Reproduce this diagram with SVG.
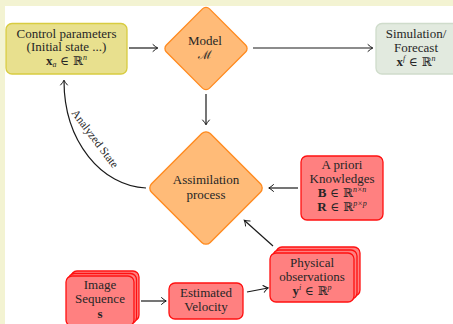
<svg xmlns="http://www.w3.org/2000/svg" width="453" height="324" viewBox="0 0 453 324">
<defs>
<marker id="arr" markerUnits="userSpaceOnUse" markerWidth="12" markerHeight="12" viewBox="-6 -6 12 12" refX="0" refY="0" orient="auto">
<path d="M-4.5,-3.4 Q-1.6,-0.8 0.3,0 Q-1.6,0.8 -4.5,3.4" fill="none" stroke="#1a1a1a" stroke-width="1" stroke-linecap="round"/>
</marker>
<style>
text{font-family:"Liberation Serif","DejaVu Serif",serif;font-size:13px;fill:#262626;text-anchor:middle}
.m{font-family:"DejaVu Serif","Liberation Serif",serif;font-size:12px}
.b{font-weight:bold}
.sup{font-size:8px}
.ctrl{fill:#e8e08e;stroke:#d8cc40;stroke-width:1.3}
.dia{fill:#ffbb78;stroke:#ff8a1e;stroke-width:1.3}
.sim{fill:#e2eadf;stroke:#cfdccb;stroke-width:1.3}
.red{fill:#ff8080;stroke:#ff1010;stroke-width:1.3}
.con{fill:none;stroke:#1a1a1a;stroke-width:1.2;marker-end:url(#arr)}
.lbl{font-size:11.5px}
</style>
</defs>
<rect x="0" y="0" width="453" height="324" fill="#ffffff"/>
<rect x="0" y="0" width="453" height="6" fill="#f3f3d2"/>
<rect x="0" y="0" width="5" height="324" fill="#f3f3d2"/>

<g id="connectors">
<path class="con" d="M129,48 L157.5,48"/>
<path class="con" d="M253,48 L372.5,48"/>
<path class="con" d="M206,94 L206,124.5"/>
<path class="con" d="M298,188 L269,188"/>
<path class="con" d="M273,246 L244.5,220.5"/>
<path class="con" d="M141,301 L166,301"/>
<path class="con" d="M247,292 L268,288"/>
<path class="con" d="M146,188 C102,186 64,142 64,80.5"/>
<text class="lbl" transform="translate(92,141) rotate(53)">Analyzed State</text>
</g>

<g id="control">
<rect class="ctrl" x="6" y="23.5" width="121" height="50.5" rx="6"/>
<text x="66.5" y="37.5">Control parameters</text>
<text x="66.5" y="51">(Initial state ...)</text>
<text x="66.5" y="65"><tspan class="b">x</tspan><tspan font-size="8" font-style="italic" dy="2">a</tspan><tspan dy="-2" class="m"> ∈ ℝ</tspan><tspan class="sup" font-style="italic" dy="-5">n</tspan></text>
</g>

<g id="model">
<rect class="dia" x="-30.5" y="-30.5" width="61" height="61" rx="5" transform="translate(206,48.5) rotate(45)"/>
<text x="205" y="45">Model</text>
<text x="205" y="59" class="m">ℳ</text>
</g>

<g id="simulation">
<rect class="sim" x="376" y="23.5" width="90" height="50.5" rx="6"/>
<text x="416" y="38">Simulation/</text>
<text x="416" y="52">Forecast</text>
<text x="416" y="66"><tspan class="b">x</tspan><tspan class="sup" font-style="italic" dy="-5">f</tspan><tspan dy="5" class="m"> ∈ ℝ</tspan><tspan class="sup" font-style="italic" dy="-5">n</tspan></text>
</g>

<g id="assimilation">
<rect class="dia" x="-41.5" y="-41.5" width="83" height="83" rx="6" transform="translate(206,188) rotate(45)"/>
<text x="206" y="184">Assimilation</text>
<text x="206" y="198.5">process</text>
</g>

<g id="apriori">
<rect class="red" x="301" y="156" width="82" height="64" rx="6"/>
<text x="342" y="169">A priori</text>
<text x="342" y="183">Knowledges</text>
<text x="342" y="197"><tspan class="b">B</tspan><tspan class="m"> ∈ ℝ</tspan><tspan class="sup" font-style="italic" dy="-5">n×n</tspan></text>
<text x="342" y="211"><tspan class="b">R</tspan><tspan class="m"> ∈ ℝ</tspan><tspan class="sup" font-style="italic" dy="-5">p×p</tspan></text>
</g>

<g id="physical">
<rect class="red" x="276" y="247" width="84" height="49" rx="6"/>
<rect class="red" x="273" y="250" width="84" height="49" rx="6"/>
<rect class="red" x="270" y="253" width="84" height="49" rx="6"/>
<text x="312" y="267">Physical</text>
<text x="312" y="281">observations</text>
<text x="312" y="295"><tspan class="b">y</tspan><tspan class="sup" font-style="italic" dy="-5">i</tspan><tspan dy="5" class="m"> ∈ ℝ</tspan><tspan class="sup" font-style="italic" dy="-5">p</tspan></text>
</g>

<g id="image">
<rect class="red" x="71" y="271" width="68" height="50" rx="6"/>
<rect class="red" x="68.5" y="273.5" width="68" height="50" rx="6"/>
<rect class="red" x="66" y="276" width="68" height="50" rx="6"/>
<text x="100" y="288.5">Image</text>
<text x="100" y="302.5">Sequence</text>
<text x="100" y="317.5" class="b">s</text>
</g>

<g id="velocity">
<rect class="red" x="169" y="283" width="74" height="36" rx="6"/>
<text x="206" y="297">Estimated</text>
<text x="206" y="311">Velocity</text>
</g>
</svg>
